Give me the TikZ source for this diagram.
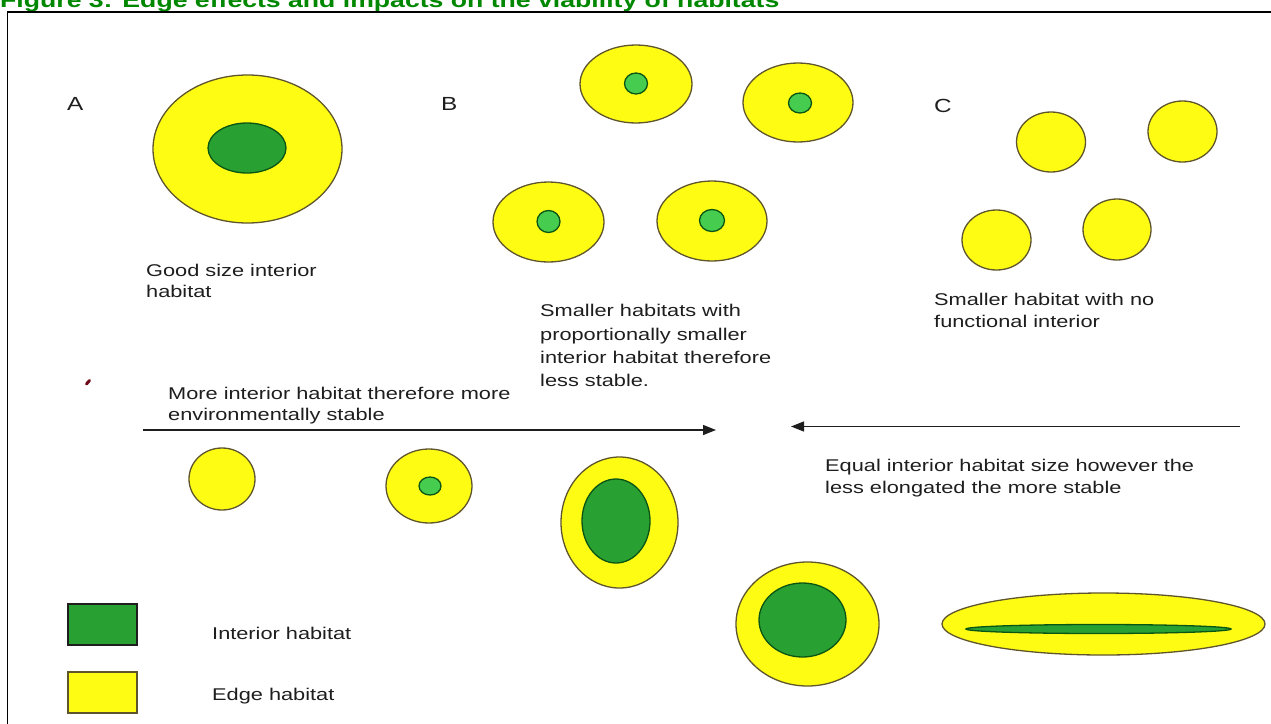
\documentclass[tikz,border=0pt]{standalone}
\usepackage{fontspec}
\newfontfamily\body{Liberation Sans}[FakeStretch=1.28]
\usetikzlibrary{arrows.meta}
\definecolor{edgeyellow}{RGB}{255,252,20}
\definecolor{edgeline}{RGB}{95,85,45}
\definecolor{coregreen}{RGB}{40,160,50}
\definecolor{dotgreen}{RGB}{70,205,80}
\definecolor{coreline}{RGB}{10,85,20}
\definecolor{titlegreen}{RGB}{0,135,0}
\definecolor{txt}{RGB}{30,30,30}
\definecolor{markred}{RGB}{110,10,25}
\tikzset{
  edgehab/.style={fill=edgeyellow, draw=edgeline, line width=1.3pt},
  corehab/.style={fill=coregreen, draw=coreline, line width=1.3pt},
  dothab/.style={fill=dotgreen, draw=coreline, line width=1.3pt},
  lbl/.style={anchor=base west, inner sep=0pt, text=txt, font=\body\fontsize{17}{20}\selectfont},
  biglbl/.style={anchor=base west, inner sep=0pt, text=txt, font=\body\fontsize{19}{22}\selectfont},
  arrowline/.style={draw=txt, line width=1.4pt, -{Triangle[length=13pt,width=10pt]}},
}
\begin{document}
\begin{tikzpicture}[x=1pt,y=-1pt]
\useasboundingbox (0,0) rectangle (1271,723);
\clip (0,0) rectangle (1271,723);
% title and frame
\node[anchor=base west, inner sep=0pt, text=titlegreen, font=\body\bfseries\fontsize{20.8}{24}\selectfont] (title) at (0,7.5) {Figure 3: Edge effects and impacts on the viability of habitats};
\draw[line width=1.8pt, black] (7.5,730) -- (7.5,12) -- (1280,12);
% labels
\node[biglbl] (labA) at (67,110) {A};
\node[biglbl] (labB) at (441,110) {B};
\node[biglbl] (labC) at (934,112) {C};
% A
\filldraw[edgehab] (247.5,149) ellipse [x radius=94.5, y radius=74];
\filldraw[corehab] (247,148) ellipse [x radius=39, y radius=25];
\node[lbl] (ta1) at (146,276) {Good size interior};
\node[lbl] (ta2) at (146,297) {habitat};
% B
\filldraw[edgehab] (636,84) ellipse [x radius=56, y radius=39];
\filldraw[dothab] (636,83.5) ellipse [x radius=11.5, y radius=10.5];
\filldraw[edgehab] (798,102.5) ellipse [x radius=55, y radius=39.5];
\filldraw[dothab] (800,103) ellipse [x radius=11.5, y radius=10];
\filldraw[edgehab] (548.5,222) ellipse [x radius=55.5, y radius=40];
\filldraw[dothab] (548.5,221.5) ellipse [x radius=11.5, y radius=11];
\filldraw[edgehab] (712,221) ellipse [x radius=55, y radius=40];
\filldraw[dothab] (712,220.5) ellipse [x radius=12.5, y radius=11];
\node[lbl] (tb1) at (540,316.5) {Smaller habitats with};
\node[lbl] (tb2) at (540,340) {proportionally smaller};
\node[lbl] (tb3) at (540,363) {interior habitat therefore};
\node[lbl] (tb4) at (540,386.5) {less stable.};
% C
\filldraw[edgehab] (1051,142) ellipse [x radius=34.5, y radius=30];
\filldraw[edgehab] (1182.5,131.5) ellipse [x radius=34.5, y radius=30.5];
\filldraw[edgehab] (996.5,240) ellipse [x radius=34.5, y radius=30];
\filldraw[edgehab] (1117,229.5) ellipse [x radius=34, y radius=30.5];
\node[lbl] (tc1) at (934,305) {Smaller habitat with no};
\node[lbl] (tc2) at (934,327) {functional interior};
% mark
\draw[markred, line width=3pt, line cap=round] (86.5,384) -- (89.5,380.5);
% arrows and texts
\node[lbl] (tm1) at (168,399) {More interior habitat therefore more};
\node[lbl] (tm2) at (168,420) {environmentally stable};
\coordinate (r1) at (143,430);
\coordinate (r2) at (716,430);
\draw[arrowline] (r1) -- (r2);
\coordinate (l1) at (1240,426.5);
\coordinate (l2) at (791,426.5);
\draw[arrowline] (l1) -- (l2);
\node[lbl] (te1) at (825,471) {Equal interior habitat size however the};
\node[lbl] (te2) at (825,493) {less elongated the more stable};
% row 2
\filldraw[edgehab] (222,479) ellipse [x radius=33, y radius=31];
\filldraw[edgehab] (429,486) ellipse [x radius=43, y radius=37];
\filldraw[dothab] (430,486) ellipse [x radius=11, y radius=9];
\filldraw[edgehab] (619.5,522.5) ellipse [x radius=58.5, y radius=65.5];
\filldraw[corehab] (616,521) ellipse [x radius=34, y radius=42];
% bottom right
\filldraw[edgehab] (807.5,624) ellipse [x radius=71.5, y radius=62];
\filldraw[corehab] (802.5,620) ellipse [x radius=43.5, y radius=37];
\filldraw[edgehab] (1103.5,624) ellipse [x radius=161.5, y radius=31];
\filldraw[corehab] (1098.5,629) ellipse [x radius=132.5, y radius=4.5];
% legend
\filldraw[fill=coregreen, draw=txt, line width=1.3pt] (68,604) rectangle (137,645);
\filldraw[fill=edgeyellow, draw=edgeline, line width=1.3pt] (68,672) rectangle (137,713);
\node[lbl] (lg1) at (212,639) {Interior habitat};
\node[lbl] (lg2) at (212,700) {Edge habitat};
\end{tikzpicture}
\end{document}
